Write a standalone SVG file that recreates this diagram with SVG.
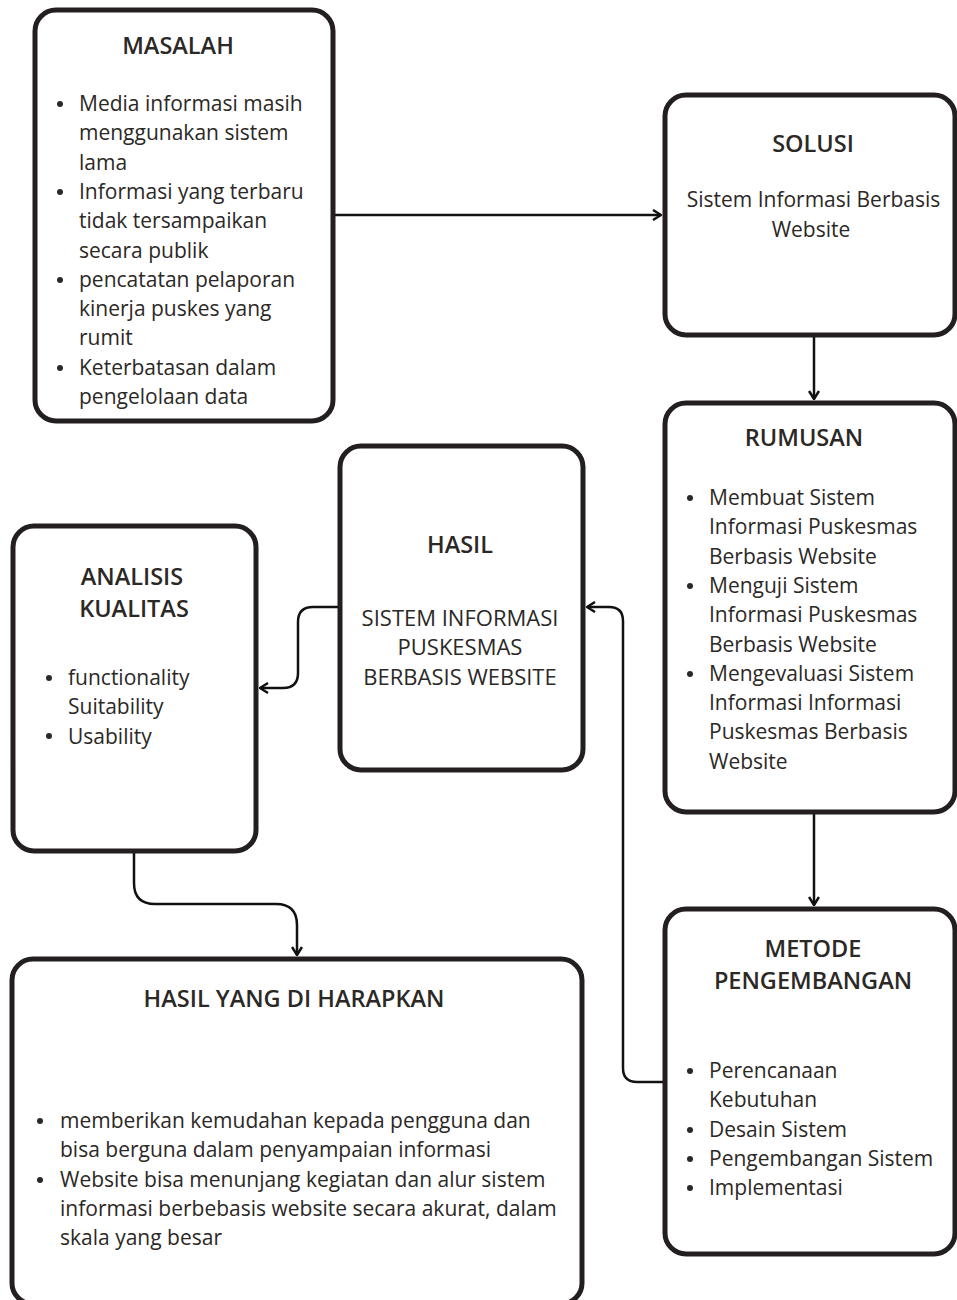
<svg xmlns="http://www.w3.org/2000/svg" width="957" height="1300" viewBox="0 0 957 1300">
<style>
.box{fill:#ffffff;stroke:#231f20;stroke-width:5}
.t{font-family:"Open Sans","Liberation Sans",sans-serif;font-size:21px;fill:#2b2826}
.u{font-size:22px}
.h{font-family:"Open Sans","Liberation Sans",sans-serif;font-size:23.5px;font-weight:600;fill:#2b2826}
.m{text-anchor:middle}
.b{fill:#2b2826}
.c{fill:none;stroke:#111111;stroke-width:2.5}
</style>
<defs>
<marker id="ah" viewBox="0 0 10 12" refX="9" refY="6" markerWidth="10" markerHeight="12" markerUnits="userSpaceOnUse" orient="auto">
<path d="M1,1 L9,6 L1,11" fill="none" stroke="#111111" stroke-width="2.5"/>
</marker>
</defs>
<rect width="957" height="1300" fill="#ffffff"/>
<g id="connectors">
<path class="c" d="M333,215 H661" marker-end="url(#ah)"/>
<path class="c" d="M814,335 V399" marker-end="url(#ah)"/>
<path class="c" d="M814,812 V905" marker-end="url(#ah)"/>
<path class="c" d="M663,1082 H637 Q623,1082 623,1068 V621 Q623,607 609,607 H587" marker-end="url(#ah)"/>
<path class="c" d="M338,607 H313 Q298,607 298,622 V673 Q298,688 283,688 H260" marker-end="url(#ah)"/>
<path class="c" d="M134,853 V883 Q134,904 155,904 H276 Q297,904 297,925 V955" marker-end="url(#ah)"/>
</g>
<g id="masalah">
<rect class="box" x="35" y="10" width="298" height="411" rx="21"/>
<text class="h m" x="178" y="54">MASALAH</text>
<circle class="b" cx="60" cy="104" r="3"/>
<circle class="b" cx="60" cy="192" r="3"/>
<circle class="b" cx="60" cy="280" r="3"/>
<circle class="b" cx="60" cy="368" r="3"/>
<text class="t" x="79" y="111">Media informasi masih</text>
<text class="t" x="79" y="140.3">menggunakan sistem</text>
<text class="t" x="79" y="169.6">lama</text>
<text class="t" x="79" y="198.9">Informasi yang terbaru</text>
<text class="t" x="79" y="228.2">tidak tersampaikan</text>
<text class="t" x="79" y="257.5">secara publik</text>
<text class="t" x="79" y="286.8">pencatatan pelaporan</text>
<text class="t" x="79" y="316.1">kinerja puskes yang</text>
<text class="t" x="79" y="345.4">rumit</text>
<text class="t" x="79" y="374.7">Keterbatasan dalam</text>
<text class="t" x="79" y="404">pengelolaan data</text>
</g>
<g id="solusi">
<rect class="box" x="665" y="95" width="290" height="240" rx="21"/>
<text class="h m" x="813" y="152">SOLUSI</text>
<text class="t m" x="813.5" y="207">Sistem Informasi Berbasis</text>
<text class="t m" x="811" y="237">Website</text>
</g>
<g id="rumusan">
<rect class="box" x="665" y="403" width="290" height="409" rx="21"/>
<text class="h m" x="804" y="446">RUMUSAN</text>
<circle class="b" cx="690" cy="498" r="3"/>
<circle class="b" cx="690" cy="586" r="3"/>
<circle class="b" cx="690" cy="674" r="3"/>
<text class="t" x="709" y="505">Membuat Sistem</text>
<text class="t" x="709" y="534.3">Informasi Puskesmas</text>
<text class="t" x="709" y="563.6">Berbasis Website</text>
<text class="t" x="709" y="592.9">Menguji Sistem</text>
<text class="t" x="709" y="622.2">Informasi Puskesmas</text>
<text class="t" x="709" y="651.5">Berbasis Website</text>
<text class="t" x="709" y="680.8">Mengevaluasi Sistem</text>
<text class="t" x="709" y="710.1">Informasi Informasi</text>
<text class="t" x="709" y="739.4">Puskesmas Berbasis</text>
<text class="t" x="709" y="768.7">Website</text>
</g>
<g id="metode">
<rect class="box" x="665" y="909" width="290" height="345" rx="21"/>
<text class="h m" x="813" y="957">METODE</text>
<text class="h m" x="813" y="989">PENGEMBANGAN</text>
<circle class="b" cx="690" cy="1071" r="3"/>
<circle class="b" cx="690" cy="1130" r="3"/>
<circle class="b" cx="690" cy="1159" r="3"/>
<circle class="b" cx="690" cy="1188" r="3"/>
<text class="t" x="709" y="1078">Perencanaan</text>
<text class="t" x="709" y="1107.3">Kebutuhan</text>
<text class="t" x="709" y="1136.6">Desain Sistem</text>
<text class="t" x="709" y="1165.9">Pengembangan Sistem</text>
<text class="t" x="709" y="1195.2">Implementasi</text>
</g>
<g id="hasil">
<rect class="box" x="340" y="446" width="243" height="324" rx="21"/>
<text class="h m" x="460" y="553">HASIL</text>
<text class="t u m" x="460" y="626">SISTEM INFORMASI</text>
<text class="t u m" x="460" y="655.3">PUSKESMAS</text>
<text class="t u m" x="460" y="684.6">BERBASIS WEBSITE</text>
</g>
<g id="analisis">
<rect class="box" x="13" y="526" width="243" height="325" rx="21"/>
<text class="h m" x="132" y="585">ANALISIS</text>
<text class="h m" x="134" y="617">KUALITAS</text>
<circle class="b" cx="49" cy="678" r="3"/>
<circle class="b" cx="49" cy="736" r="3"/>
<text class="t" x="68" y="685">functionality</text>
<text class="t" x="68" y="714.3">Suitability</text>
<text class="t" x="68" y="743.6">Usability</text>
</g>
<g id="harapan">
<rect class="box" x="12" y="959" width="570" height="345" rx="21"/>
<text class="h m" x="294" y="1007">HASIL YANG DI HARAPKAN</text>
<circle class="b" cx="40" cy="1121" r="3"/>
<circle class="b" cx="40" cy="1180" r="3"/>
<text class="t" x="60" y="1128">memberikan kemudahan kepada pengguna dan</text>
<text class="t" x="60" y="1157.3">bisa berguna dalam penyampaian informasi</text>
<text class="t" x="60" y="1186.6">Website bisa menunjang kegiatan dan alur sistem</text>
<text class="t" x="60" y="1215.9">informasi berbebasis website secara akurat, dalam</text>
<text class="t" x="60" y="1245.2">skala yang besar</text>
</g>
</svg>
